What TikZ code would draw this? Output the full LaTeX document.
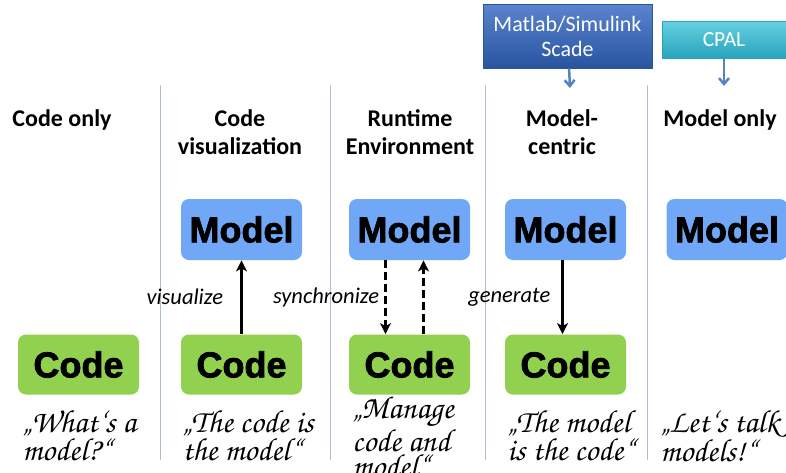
\documentclass[tikz,border=0pt]{standalone}
\usepackage[T1]{fontenc}
\usepackage{fontspec}
\setmainfont{Carlito}
\newfontfamily\boxfont[FakeBold=2]{Liberation Sans Bold}
\usetikzlibrary{arrows.meta}
\definecolor{modelBlue}{RGB}{112,167,246}
\definecolor{codeGreen}{RGB}{146,208,80}
\definecolor{dividerGray}{RGB}{176,190,212}
\definecolor{toolBlue}{RGB}{62,110,196}
\definecolor{toolBlueDark}{RGB}{40,84,160}
\definecolor{toolTeal}{RGB}{64,196,216}
\definecolor{toolTealDark}{RGB}{40,164,188}
\definecolor{hintBlue}{RGB}{84,130,196}
\newcommand\quotefont{\fontencoding{T1}\fontfamily{pzc}\fontseries{mb}\fontshape{it}\fontsize{32}{25}\selectfont}

\begin{document}
\begin{tikzpicture}
[thick,%
  x=1pt,y=-1pt,%
  dividerDecorate/.style={draw=dividerGray,line width=0.8pt},%
  headerDecorate/.style={font=\bfseries\fontsize{24}{28}\selectfont,align=center,anchor=north,inner sep=0pt},%
  modelDecorate/.style={fill=modelBlue,rounded corners=8pt,minimum width=121pt,minimum height=61pt,inner sep=0pt,font=\boxfont\fontsize{36}{36}\selectfont},%
  codeDecorate/.style={fill=codeGreen,rounded corners=8pt,minimum width=121pt,minimum height=60pt,inner sep=0pt,font=\boxfont\fontsize{36}{36}\selectfont},%
  lineDecorate/.style={-{Stealth[length=11pt,width=11pt,inset=3pt]},line width=2.5pt},%
  dashDecorate/.style={lineDecorate,dash pattern=on 8pt off 4pt},%
  labelDecorate/.style={font=\itshape\fontsize{22.5}{22.5}\selectfont,inner sep=0pt},%
  quoteDecorate/.style={font=\quotefont,align=left,anchor=north west,inner sep=0pt},%
  toolDecorate/.style={draw=toolBlueDark,line width=0.6pt,text=white,align=center,inner sep=0pt,font=\fontsize{22}{25}\selectfont},%
  hintDecorate/.style={-{Straight Barb[length=6pt,width=10pt]},draw=hintBlue,line width=2.5pt}]
\useasboundingbox (0,0) rectangle (786,472);
%% column dividers
\foreach \x in {160,330,485,647}
  \draw[dividerDecorate] (\x,85) -- (\x,460);
%% column headers
\foreach \nodename/\x/\txt in {
  head1/62/{Code only}, head2/240/{Code\\visualization},
  head3/410/{Runtime\\Environment}, head4/562/{Model-\\centric},
  head5/720/{Model only}}
{
  \node[headerDecorate] (\nodename) at (\x,109) {\txt};
}
%% model and code boxes
\foreach \n/\x in {2/241.5,3/409.5,4/565.5,5/727}
  \node[modelDecorate] (model\n) at (\x,229.5) {Model};
\foreach \n/\x in {1/78.5,2/241.5,3/409.5,4/565.5}
  \node[codeDecorate] (code\n) at (\x,364.5) {Code};
%% tools on top
\node[toolDecorate,top color=toolBlue!85!white,bottom color=toolBlueDark,minimum width=169pt,minimum height=64pt] (matlab) at (567.5,36) {Matlab/Simulink\\Scade};
\node[toolDecorate,draw=toolTealDark,top color=toolTeal!80!white,bottom color=toolTealDark,minimum width=124pt,minimum height=37pt,font=\fontsize{21.5}{21.5}\selectfont] (cpal) at (724,39.5) {CPAL};
\coordinate (matlabEnd) at (570,88);
\coordinate (cpalEnd) at (724,86);
\draw[hintDecorate] (matlab) -- (matlabEnd);
\draw[hintDecorate] (cpal) -- (cpalEnd);
%% connect code and model
\draw[lineDecorate] (code2) -- node[labelDecorate,left=17pt] {visualize} (model2);
\draw[dashDecorate] ([xshift=-24pt]model3.south) -- node[labelDecorate,left=5pt] {synchronize} ([xshift=-24pt]code3.north);
\draw[dashDecorate] ([xshift=14pt]code3.north) -- ([xshift=14pt]model3.south);
\draw[lineDecorate] ([xshift=-3pt]model4.south) -- node[labelDecorate,left=11pt] {generate} ([xshift=-3pt]code4.north);
%% quotes
\node[quoteDecorate] (quote1) at (22,409) {\quotedblbase What\textquoteleft s a\\model?\textquotedblleft};
\node[quoteDecorate] (quote2) at (182,409) {\quotedblbase The code is\\the model\textquotedblleft};
\node[quoteDecorate] (quote3) at (352,395) {\quotedblbase Manage\\code and\\model\textquotedblleft};
\node[quoteDecorate] (quote4) at (507,409) {\quotedblbase The model\\is the code\textquotedblleft};
\node[quoteDecorate] (quote5) at (660,409) {\quotedblbase Let\textquoteleft s talk\\models!\textquotedblleft};
\end{tikzpicture}
\end{document}
